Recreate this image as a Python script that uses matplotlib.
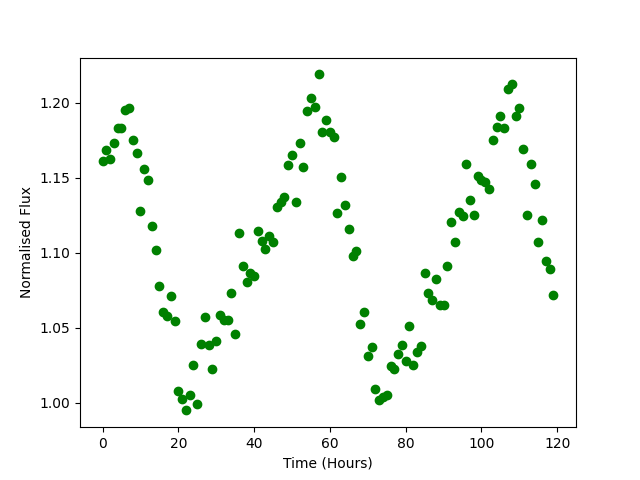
import numpy as np
import matplotlib
matplotlib.use("Agg")
import matplotlib.pyplot as plt

# Data: one flux reading per hour
time_hours = np.arange(120)
flux = np.array([
    1.1615, 1.1682, 1.1627, 1.1735, 1.1833, 1.1833, 1.1953, 1.1967, 1.1753, 1.1667,
    1.1280, 1.1560, 1.1487, 1.1180, 1.1020, 1.0780, 1.0602, 1.0580, 1.0713, 1.0547,
    1.0080, 1.0027, 0.9949, 1.0055, 1.0249, 0.9989, 1.0393, 1.0573, 1.0382, 1.0227,
    1.0409, 1.0587, 1.0553, 1.0553, 1.0735, 1.0460, 1.1129, 1.0915, 1.0807, 1.0864,
    1.0847, 1.1142, 1.1080, 1.1027, 1.1115, 1.1071, 1.1304, 1.1337, 1.1375, 1.1587,
    1.1649, 1.1340, 1.1729, 1.1575, 1.1947, 1.2035, 1.1973, 1.2189, 1.1802, 1.1882,
    1.1802, 1.1773, 1.1267, 1.1507, 1.1320, 1.1160, 1.0977, 1.1015, 1.0527, 1.0602,
    1.0309, 1.0375, 1.0095, 1.0020, 1.0037, 1.0055, 1.0242, 1.0224, 1.0327, 1.0387,
    1.0280, 1.0513, 1.0255, 1.0340, 1.0380, 1.0862, 1.0735, 1.0682, 1.0822, 1.0655,
    1.0655, 1.0913, 1.1202, 1.1073, 1.1275, 1.1242, 1.1593, 1.1353, 1.1253, 1.1509,
    1.1482, 1.1475, 1.1427, 1.1753, 1.1840, 1.1915, 1.1833, 1.2091, 1.2127, 1.1913,
    1.1967, 1.1693, 1.1253, 1.1593, 1.1460, 1.1073, 1.1220, 1.0942, 1.0893, 1.0720,
])

plt.figure(figsize=(6.4, 4.8), dpi=100)
plt.plot(time_hours, flux, "o", color="green")
plt.xlabel("Time (Hours)")
plt.ylabel("Normalised Flux")
plt.savefig("out.png")
